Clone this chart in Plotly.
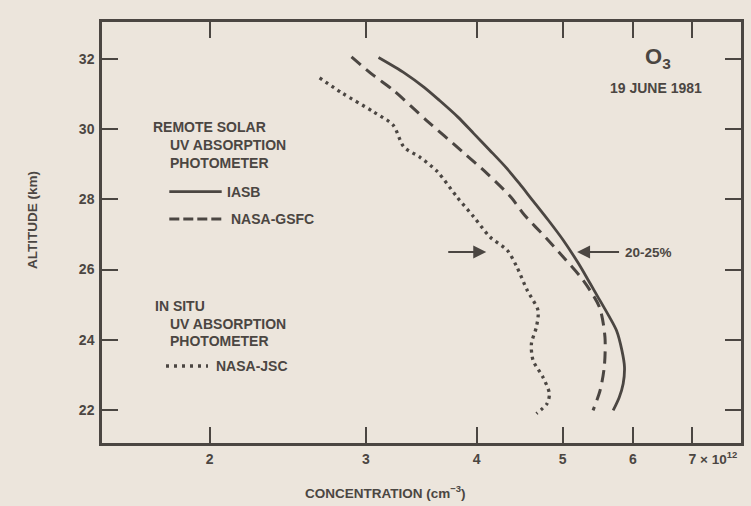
import math
import plotly.graph_objects as go

# ---------------- data (concentration in units of 1e12 cm^-3, altitude in km) -------------
iasb_alt = [32.05, 31.6, 31.2, 30.83, 30.35, 29.88, 29.4, 28.93, 28.45, 28.02, 27.4,
            26.83, 26.17, 25.6, 25.25, 24.7, 24.26, 23.7, 23.22, 22.74, 22.35, 21.98]
iasb_conc = [3.10, 3.32, 3.49, 3.63, 3.81, 3.97, 4.14, 4.31, 4.47, 4.61, 4.82,
             5.01, 5.21, 5.37, 5.47, 5.63, 5.75, 5.83, 5.87, 5.85, 5.79, 5.70]

gsfc_alt = [32.07, 31.54, 31.12, 30.26, 29.35, 28.74, 28.07, 27.55, 26.9, 26.35,
            25.7, 24.93, 24.07, 23.22, 22.55, 21.98]
gsfc_conc = [2.89, 3.06, 3.22, 3.51, 3.86, 4.11, 4.37, 4.53, 4.79, 5.01,
             5.27, 5.50, 5.58, 5.57, 5.51, 5.41]

jsc_alt = [31.47, 31.04, 30.5, 30.12, 29.5, 29.21, 28.8, 28.07, 27.5, 26.93, 26.55,
           26.07, 25.41, 24.83, 24.36, 23.88, 23.41, 22.93, 22.46, 22.17, 21.89]
jsc_conc = [2.66, 2.82, 3.06, 3.22, 3.31, 3.45, 3.61, 3.80, 3.97, 4.14, 4.33,
            4.44, 4.56, 4.69, 4.67, 4.61, 4.63, 4.75, 4.83, 4.80, 4.67]

x_tickvals = [2, 3, 4, 5, 6, 7]
x_ticktext = ["2", "3", "4", "5", "6", "7"]
y_tickvals = [22, 24, 26, 28, 30, 32]

arrow_alt = 26.5
arrow_left_conc = 4.10
arrow_right_conc = 5.19

# ---------------- styling -------------
W, H = 751, 506
L, R, T, B = 102, 10, 22, 63
BG = "#ece5dc"
INK = "#4b4642"
FONT = "Liberation Sans"


def px(x):
    return (x - L) / (W - L - R)


def py(y):
    return 1 - (y - T) / (H - T - B)


fig = go.Figure()
fig.add_trace(go.Scatter(x=iasb_conc, y=iasb_alt, mode="lines", name="IASB",
                         line=dict(color=INK, width=2.8, shape="spline", smoothing=0.8)))
fig.add_trace(go.Scatter(x=gsfc_conc, y=gsfc_alt, mode="lines", name="NASA-GSFC",
                         line=dict(color=INK, width=3, dash="12px,7px", shape="spline", smoothing=0.8)))
fig.add_trace(go.Scatter(x=jsc_conc, y=jsc_alt, mode="lines", name="NASA-JSC",
                         line=dict(color=INK, width=3.3, dash="3px,4.2px", shape="spline", smoothing=0.8)))

axis_common = dict(
    showgrid=False, zeroline=False, showline=True, linewidth=2.5, linecolor=INK,
    mirror="ticks", ticks="inside", ticklen=16, tickwidth=2, tickcolor=INK,
    tickfont=dict(family=FONT, size=14, color=INK, weight="bold"),
)

fig.update_layout(
    width=W, height=H,
    margin=dict(l=L, r=R, t=T, b=B, autoexpand=False),
    paper_bgcolor=BG, plot_bgcolor=BG,
    showlegend=False,
    xaxis=dict(type="log", range=[0.1796, 0.9000], tickmode="array",
               tickvals=x_tickvals, ticktext=x_ticktext, ticklabelstandoff=1, **axis_common),
    yaxis=dict(range=[21.05, 33.065], tickmode="array", tickvals=y_tickvals,
               ticklabelstandoff=2, **axis_common),
)


def txt(x, y, s, size=14, xanchor="left", textangle=0):
    fig.add_annotation(xref="paper", yref="paper", x=px(x), y=py(y), text=s,
                       showarrow=False, xanchor=xanchor, yanchor="middle",
                       textangle=textangle,
                       font=dict(family=FONT, size=size, color=INK, weight="bold"))


# title block
txt(643, 58, "O<sub>3</sub>", size=22)
txt(655.5, 88, "19 JUNE 1981", size=14, xanchor="center")

# legend block
txt(150.7, 127, "REMOTE SOLAR")
txt(168.3, 145, "UV ABSORPTION")
txt(168.3, 163.3, "PHOTOMETER")
txt(225, 191.7, "IASB")
txt(229.3, 219, "NASA-GSFC")
txt(152.7, 306, "IN SITU")
txt(168.3, 324, "UV ABSORPTION")
txt(168.3, 341, "PHOTOMETER")
txt(214, 366, "NASA-JSC")

fig.add_shape(type="line", xref="paper", yref="paper", x0=px(169.3), x1=px(221.7),
              y0=py(191.7), y1=py(191.7), line=dict(color=INK, width=2.8))
fig.add_shape(type="line", xref="paper", yref="paper", x0=px(169.3), x1=px(223),
              y0=py(219), y1=py(219), line=dict(color=INK, width=3, dash="10px,4px"))
fig.add_shape(type="line", xref="paper", yref="paper", x0=px(166), x1=px(208),
              y0=py(366), y1=py(366), line=dict(color=INK, width=3.3, dash="3px,5px"))

# arrows
fig.add_annotation(x=math.log10(arrow_right_conc), y=arrow_alt, xref="x", yref="y",
                   text=" ", showarrow=True, ax=44, ay=0, arrowhead=2, arrowsize=1.3,
                   arrowwidth=2, arrowcolor=INK, font=dict(size=2))
fig.add_annotation(x=math.log10(arrow_left_conc), y=arrow_alt, xref="x", yref="y",
                   text=" ", showarrow=True, ax=-40, ay=0, arrowhead=2, arrowsize=1.3,
                   arrowwidth=2, arrowcolor=INK, font=dict(size=2))
txt(622.7, 252, "20-25%", size=13.5)

# axis titles & exponent
txt(32, 220, "ALTITUDE (km)", size=13.5, xanchor="center", textangle=-90)
txt(303, 492, "CONCENTRATION (cm<sup>−3</sup>)", size=13.5)
txt(698, 458, "× 10<sup>12</sup>", size=13.5)

fig.write_html("out.html", config={"displayModeBar": False},
               post_script="document.body.style.margin='0';document.body.style.background='%s';" % BG)
